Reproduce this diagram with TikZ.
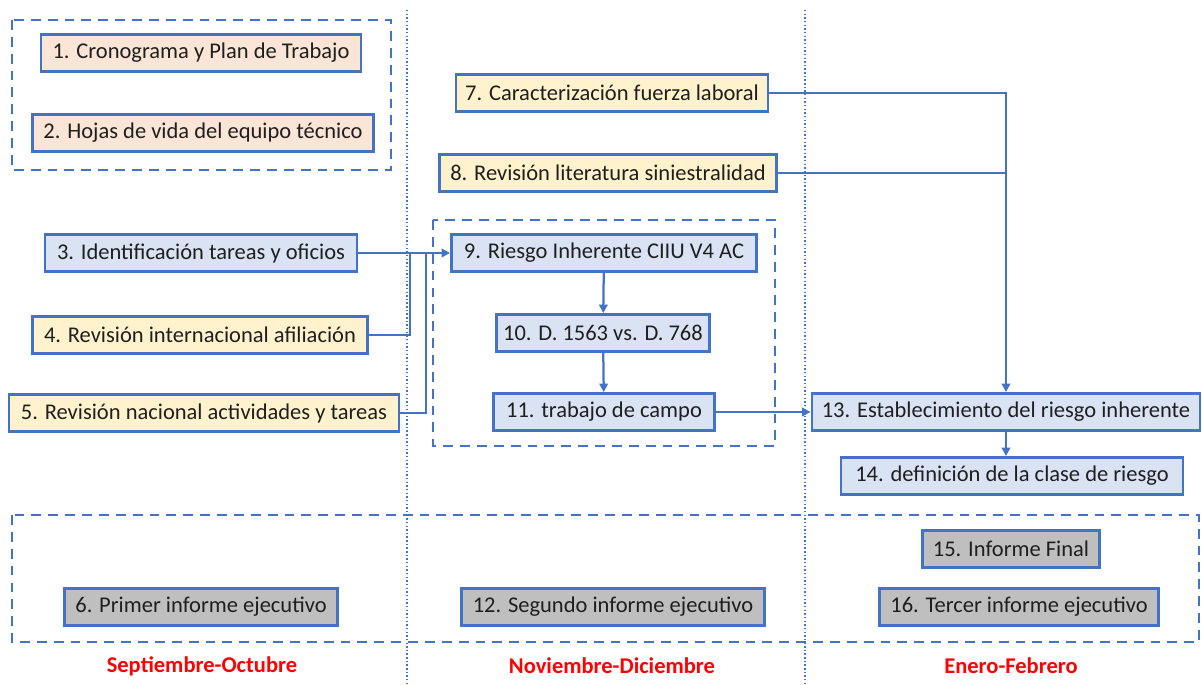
\documentclass[tikz,border=0pt]{standalone}
\usepackage{fontspec}
\setmainfont{Carlito}
\usetikzlibrary{arrows.meta}
\definecolor{boxblue}{HTML}{4472C4}
\definecolor{peach}{HTML}{FBE5D6}
\definecolor{cream}{HTML}{FFF2CC}
\definecolor{paleblue}{HTML}{DAE3F3}
\definecolor{greybox}{HTML}{BFBFBF}
\definecolor{inktext}{HTML}{1F1F1F}
\tikzset{
	task/.style={draw=boxblue, line width=2pt, minimum height=0.925cm, inner sep=0pt,
		text=inktext, font=\fontsize{16pt}{19pt}\selectfont},
	group/.style={draw=boxblue, line width=1.9pt, dash pattern=on 7pt off 5pt},
	period/.style={draw=boxblue, line width=1.7pt, dash pattern=on 1pt off 1.6pt},
	link/.style={draw=boxblue, line width=1.6pt},
	month/.style={text=red, font=\fontsize{16pt}{19pt}\selectfont\bfseries}
}
\begin{document}
\begin{tikzpicture}[x=0.025cm, y=-0.025cm, >={Triangle[length=6pt,width=6pt]}]
	\useasboundingbox (0,0) rectangle (1202,684);
	% month separators and groups
	\draw[period] (407,10) -- (407,684);
	\draw[period] (805,10) -- (805,684);
	\draw[group] (12,20) rectangle (391,170);
	\draw[group] (433,220) rectangle (775,446);
	\draw[group] (12,515) rectangle (1199,642);
	% tasks
	\node (n1) at (201, 53)	[task, fill = peach, minimum width=8cm]	{1. Cronograma y Plan de Trabajo};
	\node (n2) at (203,133)	[task, fill = peach, minimum width=8.525cm]	{2. Hojas de vida del equipo técnico};
	\node (n3) at (201,253)	[task, fill = paleblue, minimum width=7.8cm]	{3. Identificación tareas y oficios};
	\node (n4) at (200,335)	[task, fill = cream, minimum width=8.375cm]	{4. Revisión internacional afiliación};
	\node (n5) at (204,413)	[task, fill = cream, minimum width=9.75cm]	{5. Revisión nacional actividades y tareas};
	\node (n6) at (201,607)	[task, fill = greybox, minimum width=6.825cm]	{6. Primer informe ejecutivo};
	\node (n7) at (612, 93)	[task, fill = cream, minimum width=7.8cm]	{7. Caracterización fuerza laboral};
	\node (n8) at (608,173)	[task, fill = cream, minimum width=8.425cm]	{8. Revisión literatura siniestralidad};
	\node (n9) at (604,253)	[task, fill = paleblue, minimum width=7.625cm]	{9. Riesgo Inherente CIIU V4 AC};
	\node (n10) at (603,333)	[task, fill = paleblue, minimum width=5.325cm]	{10. D. 1563 vs. D. 768};
	\node (n11) at (604,412)	[task, fill = paleblue, minimum width=5.525cm]	{11. trabajo de campo};
	\node (n12) at (613,607)	[task, fill = greybox, minimum width=7.575cm]	{12. Segundo informe ejecutivo};
	\node (n13) at (1006,412)	[task, fill = paleblue, minimum width=9.7cm]	{13. Establecimiento del riesgo inherente};
	\node (n14) at (1012,476)	[task, fill = paleblue, minimum width=8.55cm]	{14. definición de la clase de riesgo};
	\node (n15) at (1011,549)	[task, fill = greybox, minimum width=4.425cm]	{15. Informe Final};
	\node (n16) at (1019,607)	[task, fill = greybox, minimum width=6.975cm]	{16. Tercer informe ejecutivo};
	% months
	\node (m1) at (202,666)	[month]	{Septiembre-Octubre};
	\node (m2) at (612,666)	[month]	{Noviembre-Diciembre};
	\node (m3) at (1011,666)	[month]	{Enero-Febrero};
	% connectors
	\coordinate (j4) at (410,253);
	\coordinate (j5) at (426,253);
	\draw[link,->] (n3) -- (n9);
	\draw[link] (n4.east) -| (j4);
	\draw[link] (n5.east) -| (j5);
	\draw[link,->] (n9) -- (n10);
	\draw[link,->] (n10) -- (n11);
	\draw[link,->] (n11) -- (n13);
	\draw[link,->] (n7.east) -| (n13.north);
	\draw[link] (n8.east) -- (n8.east -| n13.north);
	\draw[link,->] (n13.south) -- (n13.south |- n14.north);
\end{tikzpicture}
\end{document}
